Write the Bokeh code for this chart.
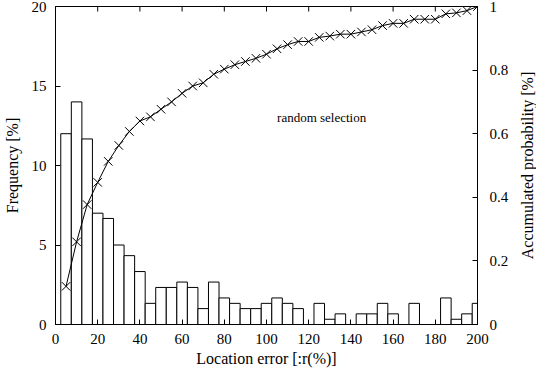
import math
from bokeh.plotting import figure
from bokeh.layouts import row
from bokeh.models import Range1d, LinearAxis, FixedTicker
from bokeh.core.properties import value
from bokeh.embed import file_html
from bokeh.resources import INLINE

# ---- data ----
error_bins = [5, 10, 15, 20, 25, 30, 35, 40, 45, 50,
              55, 60, 65, 70, 75, 80, 85, 90, 95, 100,
              105, 110, 115, 120, 125, 130, 135, 140, 145, 150,
              155, 160, 165, 170, 175, 180, 185, 190, 195, 200]
frequency = [12.0, 14.0, 11.67, 7.0, 6.67, 5.0, 4.33, 3.33, 1.33, 2.33,
             2.33, 2.67, 2.33, 1.0, 2.67, 1.67, 1.33, 1.0, 1.0, 1.33,
             1.67, 1.33, 1.0, 0.0, 1.33, 0.33, 0.67, 0.0, 0.67, 0.67,
             1.33, 0.67, 0.0, 1.33, 0.0, 0.0, 1.67, 0.33, 0.67, 1.33]
accumulated = [0.12, 0.26, 0.377, 0.447, 0.513, 0.563, 0.607, 0.64, 0.653, 0.677,
               0.70, 0.727, 0.75, 0.76, 0.787, 0.803, 0.817, 0.827, 0.837, 0.85,
               0.867, 0.88, 0.89, 0.89, 0.903, 0.907, 0.913, 0.913, 0.92, 0.927,
               0.94, 0.947, 0.947, 0.96, 0.96, 0.96, 0.977, 0.98, 0.987, 1.0]
x_ticks = [0, 20, 40, 60, 80, 100, 120, 140, 160, 180, 200]
y_ticks = [0, 5, 10, 15, 20]
y2_ticks = [0, 0.2, 0.4, 0.6, 0.8, 1]
y2_labels = ["0", "0.2", "0.4", "0.6", "0.8", "1"]
annotation = "random selection"
annotation_pos = (105, 13)

FONT = "Liberation Serif"
TICK_FS = "15px"
TITLE_FS = "16px"
NOTE_FS = "13px"

FRAME_H = 318
TOP = 6
BOTTOM = 45

p = figure(frame_width=422, frame_height=FRAME_H,
           x_range=Range1d(0, 200), y_range=Range1d(0, 20),
           output_backend="svg", toolbar_location=None,
           min_border_left=54, min_border_right=38,
           min_border_top=TOP, min_border_bottom=BOTTOM,
           background_fill_color="white", border_fill_color="white")
p.extra_y_ranges = {"prob": Range1d(0, 1)}
p.grid.visible = False
p.outline_line_color = "black"
p.outline_line_width = 1
p.outline_line_alpha = 1


def style_axis(ax):
    ax.major_tick_in = 5
    ax.major_tick_out = 0
    ax.minor_tick_in = 0
    ax.minor_tick_out = 0
    ax.axis_line_color = "black"
    ax.major_tick_line_color = "black"
    ax.major_label_text_font = FONT
    ax.major_label_text_font_size = TICK_FS
    ax.major_label_text_color = "black"
    ax.axis_label_text_font = FONT
    ax.axis_label_text_font_size = TITLE_FS
    ax.axis_label_text_font_style = "normal"
    ax.axis_label_text_color = "black"


xa = p.xaxis[0]
xa.ticker = FixedTicker(ticks=x_ticks)
xa.axis_label = "Location error [:r(%)]"
style_axis(xa)
xa.major_label_standoff = 9
xa.axis_label_standoff = 3

ya = p.yaxis[0]
ya.ticker = FixedTicker(ticks=y_ticks)
ya.axis_label = "Frequency [%]"
style_axis(ya)
ya.major_label_standoff = 9
ya.axis_label_standoff = 8

ra = LinearAxis(y_range_name="prob", ticker=FixedTicker(ticks=y2_ticks))
style_axis(ra)
ra.major_label_overrides = {t: l for t, l in zip(y2_ticks, y2_labels)}
ra.major_label_standoff = 12
p.add_layout(ra, "right")

# mirrored x ticks on the top border (inward)
p.scatter(x=x_ticks, y=[y_ticks[-1]] * len(x_ticks), marker="dash",
          angle=math.pi / 2, size=10, line_color="black", line_width=1)

# histogram bars
bar_line = ["#cc3333" if f == 0 else "black" for f in frequency]
p.vbar(x=error_bins, width=5, top=frequency, bottom=0,
       fill_color="white", line_color=bar_line, line_width=1)

# accumulated probability curve
p.line(error_bins, accumulated, y_range_name="prob",
       line_color="black", line_width=1)
p.scatter(error_bins, accumulated, y_range_name="prob", marker="x",
          size=12, line_color="black", line_width=1)

p.text(x=[annotation_pos[0]], y=[annotation_pos[1]], text=[annotation],
       text_font=value(FONT), text_font_size=NOTE_FS, text_align="left",
       text_baseline="middle", text_color="black")

# narrow companion figure carrying the right-hand title (reads bottom-to-top)
q = figure(frame_width=1, frame_height=FRAME_H,
           x_range=Range1d(0, 1), y_range=Range1d(0, 1),
           output_backend="svg", toolbar_location=None,
           min_border_left=0, min_border_right=0,
           min_border_top=TOP, min_border_bottom=BOTTOM,
           background_fill_color="white", border_fill_color="white")
q.outline_line_color = None
q.grid.visible = False
q.xaxis.visible = False
qa = q.yaxis[0]
style_axis(qa)
qa.ticker = FixedTicker(ticks=[])
qa.axis_line_color = None
qa.major_tick_in = 0
qa.major_label_standoff = 0
qa.axis_label_standoff = 0
qa.axis_label = "Accumulated probability [%]"

layout = row(p, q, spacing=0)
open("out.html", "w").write(file_html(layout, INLINE))
